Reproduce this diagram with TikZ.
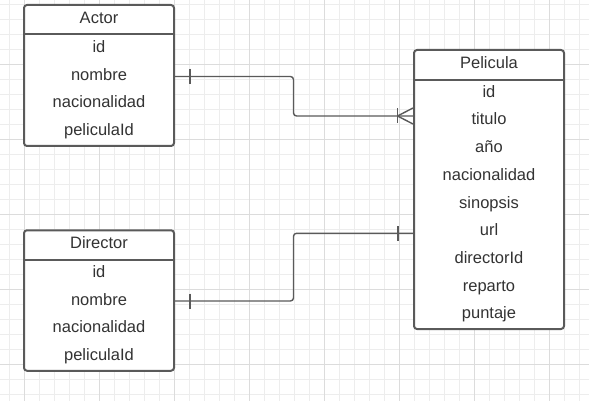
\documentclass[tikz,border=0pt]{standalone}
\usepackage{fontspec}
\setmainfont{Liberation Sans}
\definecolor{gridminor}{HTML}{EDEDED}
\definecolor{gridmajor}{HTML}{DCDCDC}
\definecolor{edgec}{HTML}{5A5A5A}
\definecolor{txtc}{HTML}{333333}
\begin{document}
\begin{tikzpicture}[x=1pt,y=-1pt,
  ebox/.style={draw=edgec,line width=2pt,rounded corners=3pt,fill=white,inner sep=0pt},
  sepline/.style={draw=edgec,line width=2pt},
  fld/.style={anchor=base,text=txtc,inner sep=0pt,font=\fontsize{16.5}{18}\selectfont},
  conn/.style={draw=edgec,line width=1.4pt,rounded corners=3pt},
  ermark/.style={draw=edgec,line width=1.4pt}
]
\useasboundingbox (0,0) rectangle (589,401);
\fill[white] (0,0) rectangle (589,401);
% grid
\foreach \x in {9,24,...,589} \draw[gridminor,line width=1pt] (\x,0) -- (\x,401);
\foreach \y in {4.3,19.3,...,401} \draw[gridminor,line width=1pt] (0,\y) -- (589,\y);
\foreach \x in {24,99,...,589} \draw[gridmajor,line width=1pt] (\x,0) -- (\x,401);
\foreach \y in {64.3,139.3,...,401} \draw[gridmajor,line width=1pt] (0,\y) -- (589,\y);

% Actor
\node[ebox,minimum width=150pt,minimum height=141pt] (actor) at (99,75.5) {};
\draw[sepline] (24,34) -- (174,34);
\node[fld] (aH) at (99,24) {Actor};
\node[fld] (a1) at (99,52.7) {id};
\node[fld] (a2) at (99,80.5) {nombre};
\node[fld] (a3) at (99,107.8) {nacionalidad};
\node[fld] (a4) at (99,135.3) {peliculaId};

% Director
\node[ebox,minimum width=150pt,minimum height=140.5pt] (director) at (99,300.5) {};
\draw[sepline] (24,260) -- (174,260);
\node[fld] (dH) at (99,248.7) {Director};
\node[fld] (d1) at (99,277.3) {id};
\node[fld] (d2) at (99,305.5) {nombre};
\node[fld] (d3) at (99,332.9) {nacionalidad};
\node[fld] (d4) at (99,360.3) {peliculaId};

% Pelicula
\node[ebox,minimum width=150pt,minimum height=279pt] (pelicula) at (489,189.5) {};
\draw[sepline] (414,80) -- (564,80);
\node[fld] (pH) at (489,68.3) {Pelicula};
\node[fld] (p1) at (489,97.3) {id};
\node[fld] (p2) at (489,125) {titulo};
\node[fld] (p3) at (489,152.7) {año};
\node[fld] (p4) at (489,180.4) {nacionalidad};
\node[fld] (p5) at (489,208) {sinopsis};
\node[fld] (p6) at (489,235.7) {url};
\node[fld] (p7) at (489,263.4) {directorId};
\node[fld] (p8) at (489,291) {reparto};
\node[fld] (p9) at (489,318.8) {puntaje};

% connector Actor - Pelicula
\coordinate (c1a) at (174,76.5);
\coordinate (c1b) at (293.5,76.5);
\coordinate (c1c) at (293.5,116);
\coordinate (c1d) at (413,116);
\draw[conn] (actor.east |- c1a) -- (c1b) -- (c1c) -- (pelicula.west |- c1d);
\draw[ermark] (190,69) -- (190,84);
\draw[ermark] (397.5,108.5) -- (397.5,123.5);
\draw[ermark] (397.5,116) -- (413,108);
\draw[ermark] (397.5,116) -- (413,124);

% connector Director - Pelicula
\coordinate (c2a) at (174,301);
\coordinate (c2b) at (293.5,301);
\coordinate (c2c) at (293.5,233.3);
\coordinate (c2d) at (413,233.3);
\draw[conn] (director.east |- c2a) -- (c2b) -- (c2c) -- (pelicula.west |- c2d);
\draw[ermark] (190,293.5) -- (190,308.5);
\draw[ermark] (398,226) -- (398,241);
\end{tikzpicture}
\end{document}
